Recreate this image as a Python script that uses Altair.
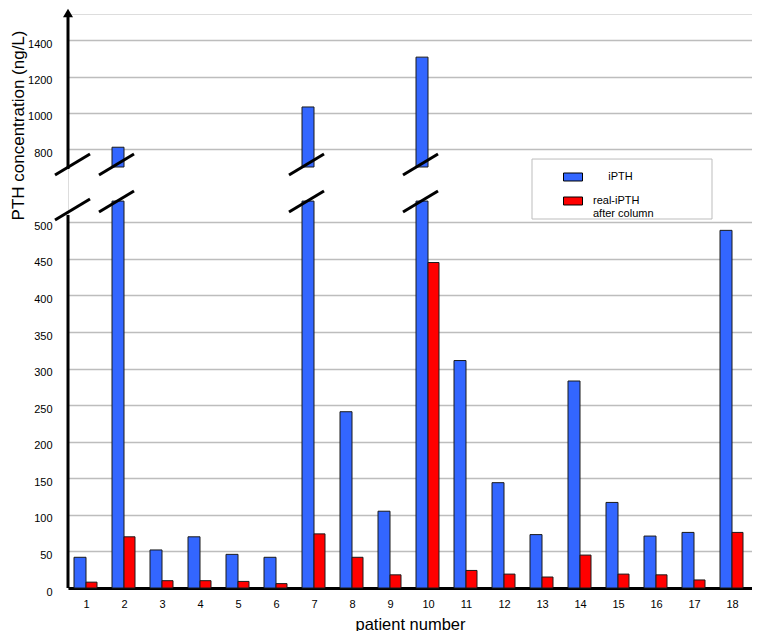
import altair as alt
import pandas as pd

# ---------------- data ----------------
patients = list(range(1, 19))
ipth = [42, 810, 52, 70, 46, 42, 1032, 241, 105, 1307, 311, 144, 73, 283, 117, 71, 76, 489]
real_ipth = [8, 70, 10, 10, 9, 6, 74, 42, 18, 445, 24, 19, 15, 45, 19, 18, 11, 76]
series_names = ["iPTH", "real-iPTH after column"]
series_colors = ["#3366FF", "#FF0000"]
y_ticks_lower = [0, 50, 100, 150, 200, 250, 300, 350, 400, 450, 500]
y_ticks_upper = [800, 1000, 1200, 1400]
x_ticks = patients

# ---------------- broken-axis geometry (display units = lower-segment units) ----------------
LOW_MAX = 510.0      # top of lower axis segment
LOW_CAP = 529.0      # where lower part of a broken bar stops
UP_MIN = 690.0       # real value at bottom of upper segment
UP_BASE = 572.9      # display value where upper segment starts
UP_RATIO = 0.24787   # display units per real unit in the upper segment
UP_BAR_START = 575.6 # display value where upper part of a broken bar starts
D_MAX = 784.8
X_MIN, X_MAX = 1 - 18 / 38, 18 + 20 / 38
BLUE_W, RED_W = 12 / 38, 11 / 38


def disp(v):
    return v if v <= LOW_MAX else UP_BASE + (v - UP_MIN) * UP_RATIO


rows = []
for p, a, b in zip(patients, ipth, real_ipth):
    for s, v, x0, x1 in [(series_names[0], a, p - BLUE_W, p), (series_names[1], b, p, p + RED_W)]:
        rows.append(dict(patient=p, series=s, value=v, x0=x0, x1=x1,
                         base=0.0, lo_top=min(v, LOW_CAP), broken=v > LOW_MAX,
                         up_bot=UP_BAR_START, up_top=disp(v)))
df = pd.DataFrame(rows)
up_df = df[df["broken"]].copy()

# y-axis segments (broken axis line)
axis_df = pd.DataFrame({"x": [X_MIN, X_MIN], "y0": [0.0, UP_BASE], "y1": [LOW_MAX, D_MAX]})

# break slashes: on the axis and on every broken bar
sl = []
sl.append(dict(xa=X_MIN - 13 / 38, xb=X_MIN + 22 / 38, ya=564.7, yb=593.4))
sl.append(dict(xa=X_MIN - 13 / 38, xb=X_MIN + 22 / 38, ya=503.1, yb=531.9))
for p in up_df["patient"]:
    sl.append(dict(xa=p - 25 / 38, xb=p + 10 / 38, ya=564.7, yb=593.4))
    sl.append(dict(xa=p - 25 / 38, xb=p + 10 / 38, ya=514.1, yb=542.8))
slash_df = pd.DataFrame(sl)

arrow_df = pd.DataFrame({"x": [X_MIN], "y": [786.2]})
box_df = pd.DataFrame({"x0": [12.737], "x1": [17.474], "y0": [504.5], "y1": [586.5]})

tick_values = [float(t) for t in y_ticks_lower] + [disp(t) for t in y_ticks_upper]

xscale = alt.Scale(domain=[X_MIN, X_MAX], nice=False, zero=False)
yscale = alt.Scale(domain=[0, D_MAX], nice=False, zero=False)

FONT = "Liberation Sans"

x_axis = alt.Axis(values=x_ticks, format="d", title="patient number", grid=False,
                  ticks=False, tickSize=0, domain=True, domainColor="black", domainWidth=3,
                  labelFontSize=11, labelPadding=10, labelColor="black",
                  titleFontSize=16.5, titleFontWeight="normal", titlePadding=7, titleColor="black")

y_axis = alt.Axis(values=tick_values, grid=True, gridColor="#bdbdbd", gridWidth=1.5,
                  domain=False, ticks=False, tickSize=0,
                  labelExpr="datum.value > 520 ? format(round(690 + (datum.value - 572.9) / 0.24787), 'd') : datum.label",
                  labelFontSize=11, labelPadding=16, labelOffset=4, labelColor="black",
                  title="PTH concentration (ng/L)", titleFontSize=17, titleFontWeight="normal",
                  titleColor="black", titleAngle=270, titleAlign="center", titleBaseline="middle",
                  titleX=-50, titleY=111)

zw = "\u200b"
nb = "\u00a0"
legend = alt.Legend(title=None, orient="none", legendX=495, legendY=153, direction="vertical",
                    labelExpr="datum.label == 'iPTH' ? '" + zw + nb * 5 + "iPTH' : ['real-iPTH', 'after column']",
                    symbolType="M-1,-0.42L1,-0.42L1,0.42L-1,0.42Z", symbolSize=361,
                    symbolStrokeColor="black", symbolStrokeWidth=1, labelFontSize=11,
                    labelOffset=10, rowPadding=8, padding=0, labelColor="black", labelLimit=200)

color = alt.Color("series:N", scale=alt.Scale(domain=series_names, range=series_colors), legend=legend)

box = alt.Chart(box_df).mark_rect(fill="white", stroke="#bdbdbd", strokeWidth=1).encode(
    x=alt.X("x0:Q", scale=xscale, axis=x_axis), x2="x1:Q",
    y=alt.Y("y0:Q", scale=yscale, axis=y_axis), y2="y1:Q")

bars_low = alt.Chart(df).mark_bar(stroke="#1a1a1a", strokeWidth=1).encode(
    x=alt.X("x0:Q", scale=xscale), x2="x1:Q",
    y=alt.Y("lo_top:Q", scale=yscale), y2="base:Q",
    color=color)

bars_up = alt.Chart(up_df).mark_bar(stroke="#1a1a1a", strokeWidth=1).encode(
    x=alt.X("x0:Q", scale=xscale), x2="x1:Q",
    y=alt.Y("up_top:Q", scale=yscale), y2="up_bot:Q",
    color=color)

axis_line = alt.Chart(axis_df).mark_rule(color="black", strokeWidth=3).encode(
    x=alt.X("x:Q", scale=xscale), y=alt.Y("y0:Q", scale=yscale), y2="y1:Q")

slashes = alt.Chart(slash_df).mark_rule(color="black", strokeWidth=3).encode(
    x=alt.X("xa:Q", scale=xscale), x2="xb:Q",
    y=alt.Y("ya:Q", scale=yscale), y2="yb:Q")

arrow = alt.Chart(arrow_df).mark_point(shape="triangle-up", filled=True, size=100,
                                        color="black", opacity=1).encode(
    x=alt.X("x:Q", scale=xscale), y=alt.Y("y:Q", scale=yscale))

chart = alt.layer(box, bars_low, bars_up, axis_line, slashes, arrow).properties(
    width=684, height=574, autosize="none",
    padding={"left": 60, "top": 6, "right": 0, "bottom": 43},
).configure_view(strokeWidth=0).configure(font=FONT)

chart.save("out.html", embed_options={"renderer": "svg", "actions": False})
